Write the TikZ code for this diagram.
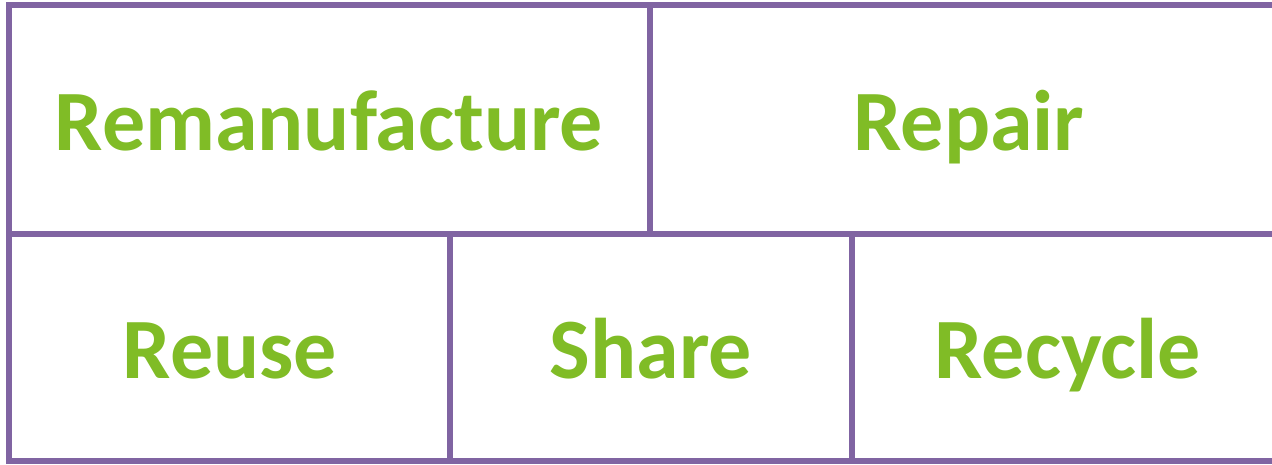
\documentclass[tikz,border=0pt]{standalone}
\usepackage{fontspec}
\setmainfont{Carlito}
\definecolor{gridpurple}{HTML}{8064A2}
\definecolor{labelgreen}{HTML}{80BC26}
\begin{document}
\begin{tikzpicture}[x=1pt,y=-1pt,
  gridline/.style={draw=gridpurple,line width=6pt},
  lbl/.style={text=labelgreen,font=\bfseries\fontsize{86}{92}\selectfont,inner sep=0pt,anchor=base}]
\useasboundingbox (0,0) rectangle (1272,464);
\draw[gridline] (1290,5) -- (9,5) -- (9,461) -- (1290,461);
\draw[gridline] (9,234) -- (1290,234);
\draw[gridline] (649.5,5) -- (649.5,234);
\draw[gridline] (450,234) -- (450,461);
\draw[gridline] (852,234) -- (852,461);
\node[lbl] (remanufacture) at (329,150) {Remanufacture};
\node[lbl] (repair) at (969,150) {Repair};
\node[lbl] (reuse) at (230,378) {Reuse};
\node[lbl] (share) at (651,378) {Share};
\node[lbl] (recycle) at (1068,378) {Recycle};
\end{tikzpicture}
\end{document}
